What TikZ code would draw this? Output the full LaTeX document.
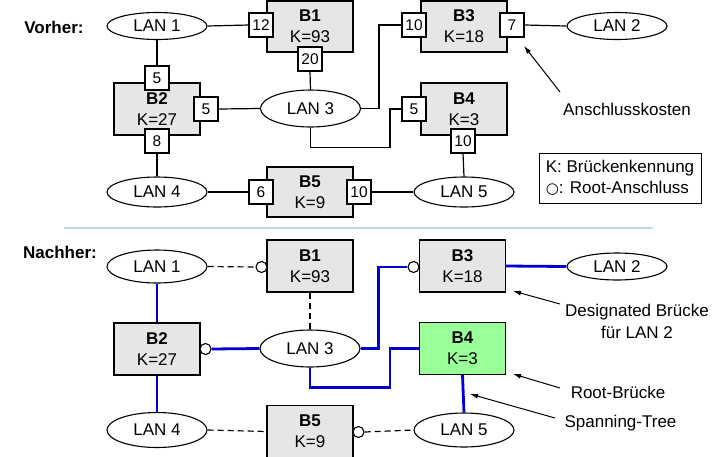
\documentclass[tikz,border=0pt]{standalone}
\usepackage{fontspec}
\setmainfont{Liberation Sans}
\newfontfamily\djv{DejaVu Sans}
\usetikzlibrary{arrows.meta,shapes.geometric}
\definecolor{boxgray}{RGB}{230,230,230}
\definecolor{rootgreen}{RGB}{153,255,153}
\definecolor{sepcol}{RGB}{190,222,226}
\definecolor{treeblue}{RGB}{0,0,210}
\tikzset{
  lan/.style={ellipse,draw,line width=1.1pt,fill=white,inner sep=0pt,minimum width=100pt,font=\fontsize{17}{20}\selectfont},
  bridge/.style={rectangle,draw,line width=1.2pt,fill=boxgray,inner sep=0pt,minimum width=86pt,minimum height=52pt,align=center,font=\fontsize{17}{21}\selectfont},
  port/.style={rectangle,draw,line width=1.1pt,fill=white,inner sep=0pt,minimum width=24pt,minimum height=24pt,font=\fontsize{15.5}{18}\selectfont},
  rootp/.style={circle,draw,line width=1.1pt,fill=white,inner sep=0pt,minimum size=11pt},
  link/.style={line width=1.2pt},
  dlink/.style={line width=1.2pt,dash pattern=on 6pt off 4pt},
  blink/.style={line width=2.8pt,treeblue},
  annot/.style={font=\fontsize{17}{22}\selectfont,align=center,inner sep=0pt},
  pointer/.style={line width=1pt,-{Latex[length=8pt,width=5pt]}},
  title/.style={font=\bfseries\fontsize{17}{20}\selectfont,inner sep=0pt}
}
\begin{document}
\begin{tikzpicture}[x=1pt,y=-1pt]
\useasboundingbox (0,0) rectangle (722,456);
% ---------------- Vorher ----------------
\node[title] (tv) at (54,27) {Vorher:};
\node[lan,minimum height=27pt] (lan1t) at (157,26) {LAN 1};
\node[lan,minimum height=37pt] (lan3t) at (310.5,108.5) {LAN 3};
\node[lan,minimum height=30pt] (lan4t) at (157,192) {LAN 4};
\node[lan,minimum height=30pt] (lan5t) at (464,192) {LAN 5};
\node[lan,minimum height=27pt] (lan2t) at (617,26) {LAN 2};
\node[bridge,minimum height=51pt] (b1t) at (310,26.5) {\textbf{B1}\\K=93};
\node[bridge] (b2t) at (157,109) {\textbf{B2}\\K=27};
\node[bridge,minimum height=51pt] (b3t) at (464,26.5) {\textbf{B3}\\K=18};
\node[bridge] (b4t) at (464,109) {\textbf{B4}\\K=3};
\node[bridge,minimum height=50pt] (b5t) at (310,192) {\textbf{B5}\\K=9};
\node[port] (p12) at (261,25) {12};
\node[port] (p20) at (310,59) {20};
\node[port] (p5a) at (157,78) {5};
\node[port] (p5b) at (206,109) {5};
\node[port] (p8) at (157,141) {8};
\node[port] (p6) at (261,192) {6};
\node[port] (p10c) at (359,192) {10};
\node[port] (p10a) at (414,25) {10};
\node[port] (p7) at (512,25) {7};
\node[port] (p5c) at (414,109) {5};
\node[port] (p10b) at (463,141) {10};
\draw[link] (lan1t.east) -- (p12.west);
\draw[link] (lan1t.south) -- (p5a.north);
\draw[link] (p8.south) -- (lan4t.north);
\draw[link] (p5b.east) -- (lan3t.west);
\draw[link] (p20.south) -- (lan3t.north);
\draw[link] (lan3t.east) -- ++(18,0) |- (p10a.west);
\draw[link] (lan3t.south) -- ++(0,20) -| (390,109) -- (p5c.west);
\draw[link] (p10b.south) -- (lan5t.north);
\draw[link] (p10c.east) -- (lan5t.west);
\draw[link] (lan4t.east) -- (p6.west);
\draw[link] (p7.east) -- (lan2t.west);
\node[draw,line width=1pt,minimum width=162pt,minimum height=50pt,inner sep=0pt,align=left,font=\fontsize{17}{21}\selectfont] (legend) at (620,178) {K: Brückenkennung\\{\djv\fontsize{15}{21}\selectfont ○}: Root-Anschluss};
\node[annot] (ak) at (627,109) {Anschlusskosten};
\coordinate (akstart) at (560,92);
\coordinate (aktip) at (524,46);
\draw[pointer] (akstart) -- (aktip);
% separator
\draw[sepcol,line width=2pt] (64,228) -- (653,228);
% ---------------- Nachher ----------------
\node[title] (tn) at (60,252) {Nachher:};
\node[lan,minimum height=33pt] (lan1b) at (157,266.5) {LAN 1};
\node[lan,minimum height=37pt] (lan3b) at (310,348.5) {LAN 3};
\node[lan,minimum height=35pt] (lan4b) at (157,430) {LAN 4};
\node[lan,minimum height=34pt] (lan5b) at (464,430) {LAN 5};
\node[lan,minimum height=27pt] (lan2b) at (617,266.5) {LAN 2};
\node[bridge] (b1b) at (310,266) {\textbf{B1}\\K=93};
\node[bridge] (b2b) at (157,349) {\textbf{B2}\\K=27};
\node[bridge] (b3b) at (462.5,266) {\textbf{B3}\\K=18};
\node[bridge,fill=rootgreen] (b4b) at (462.5,348.5) {\textbf{B4}\\K=3};
\node[bridge] (b5b) at (310,431.5) {\textbf{B5}\\K=9};
\node[rootp] (r1) at (261.5,267) {};
\node[rootp] (r2) at (205.5,349) {};
\node[rootp] (r3) at (413.5,267) {};
\node[rootp] (r5) at (358.5,432) {};
\draw[dlink] (lan1b.east) -- (r1.west);
\draw[dlink] (b1b.south) -- (lan3b.north);
\draw[dlink] (lan4b.east) -- (b5b.west);
\draw[dlink] (r5.east) -- (lan5b.west);
\draw[blink] (r2.east) -- (lan3b.west);
\draw[blink] (lan1b.south) -- (b2b.north);
\draw[blink] (b2b.south) -- (lan4b.north);
\draw[blink] (b4b.south) -- (lan5b.north);
\draw[blink] (lan3b.south) -- ++(0,20) -| (390,348.5) -- (b4b.west);
\draw[blink] (lan3b.east) -- ++(18,0) |- (r3.west);
\draw[blink] (b3b.east) -- (lan2b.west);
\node[annot] (db) at (637,321) {Designated Brücke\\für LAN 2};
\node[annot] (rb) at (618,392) {Root-Brücke};
\node[annot] (st) at (620.5,423) {Spanning-Tree};
\coordinate (dbs) at (560,304);
\coordinate (dbt) at (513,291);
\coordinate (rbs) at (560,388);
\coordinate (rbt) at (513,374);
\coordinate (sts) at (555,418);
\coordinate (stt) at (470,394);
\draw[pointer] (dbs) -- (dbt);
\draw[pointer] (rbs) -- (rbt);
\draw[pointer] (sts) -- (stt);
\end{tikzpicture}
\end{document}
